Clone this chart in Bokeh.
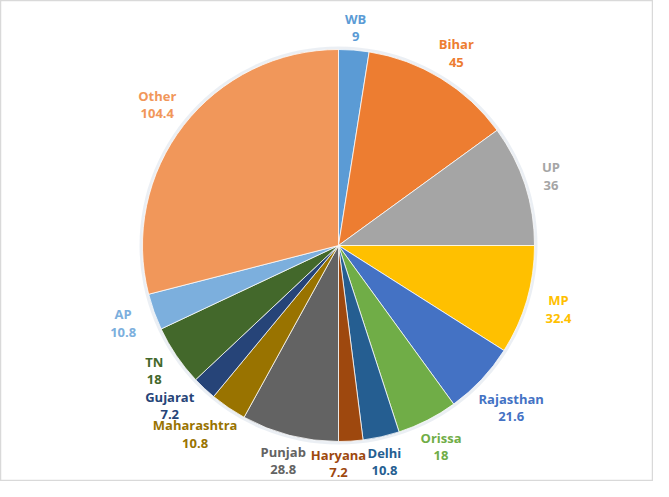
import math
from bokeh.plotting import figure
from bokeh.models import Range1d, ColumnDataSource
from bokeh.embed import file_html
from bokeh.resources import INLINE
from bokeh.core.properties import value

# ---- data ----
states = ["WB", "Bihar", "UP", "MP", "Rajasthan", "Orissa", "Delhi", "Haryana",
          "Punjab", "Maharashtra", "Gujarat", "TN", "AP", "Other"]
amounts = [9, 45, 36, 32.4, 21.6, 18, 10.8, 7.2, 28.8, 10.8, 7.2, 18, 10.8, 104.4]
colors = ["#5B9BD5", "#ED7D31", "#A5A5A5", "#FFC000", "#4472C4", "#70AD47", "#255E91",
          "#9E480E", "#636363", "#997300", "#264478", "#43682B", "#7CAFDD", "#F1975A"]

# ---- layout (styling, not data) ----
W, H = 653, 481
CX, CY = 338, H - 245          # pie centre (y measured from the top)
R = 196
label_nudge = {"Haryana": 3.6, "Delhi": 0.6, "Maharashtra": 3.0, "Gujarat": 3.3}

total = sum(amounts)
starts, ends, mids = [], [], []
cum = 0.0
for v in amounts:
    s = cum / total * 360.0
    cum += v
    e = cum / total * 360.0
    starts.append(math.radians(90 - s))
    ends.append(math.radians(90 - e))
    mids.append((s + e) / 2)

val_txt = [f"{v:g}" for v in amounts]
lx, ly_name, ly_val = [], [], []
for name, vt, m in zip(states, val_txt, mids):
    a = math.radians(m + label_nudge.get(name, 0.0))
    ux, uy = math.sin(a), math.cos(a)
    hw = 3.6 * max(len(name), len(vt))
    r = R + 22 + 0.8 * hw * abs(ux)
    x = CX + r * ux
    y = CY + r * uy
    lx.append(x)
    ly_name.append(y + 9)
    ly_val.append(y - 9)

src = ColumnDataSource(dict(start=starts, end=ends, color=colors, name=states,
                            val=val_txt, lx=lx, lyn=ly_name, lyv=ly_val))

p = figure(width=W, height=H, output_backend="svg", toolbar_location=None,
           x_range=Range1d(0, W), y_range=Range1d(0, H),
           min_border=0, outline_line_color="#d9d9d9", outline_line_width=1.5)
p.axis.visible = False
p.grid.visible = False
p.background_fill_color = "white"
p.border_fill_color = "white"

# soft halo around pie
p.circle(x=[CX], y=[CY], radius=R + 3, fill_color="#dde4ec", fill_alpha=0.6, line_color=None)

p.wedge(x=CX, y=CY, radius=R, start_angle="start", end_angle="end", direction="clock",
        fill_color="color", line_color="white", line_width=0.75, source=src)

common = dict(text_font=value("Open Sans"), text_font_style="bold", text_font_size="13px",
              text_align="center", text_baseline="middle", text_color="color", source=src)
p.text(x="lx", y="lyn", text="name", **common)
p.text(x="lx", y="lyv", text="val", **common)

open("out.html", "w").write(file_html(p, INLINE))
